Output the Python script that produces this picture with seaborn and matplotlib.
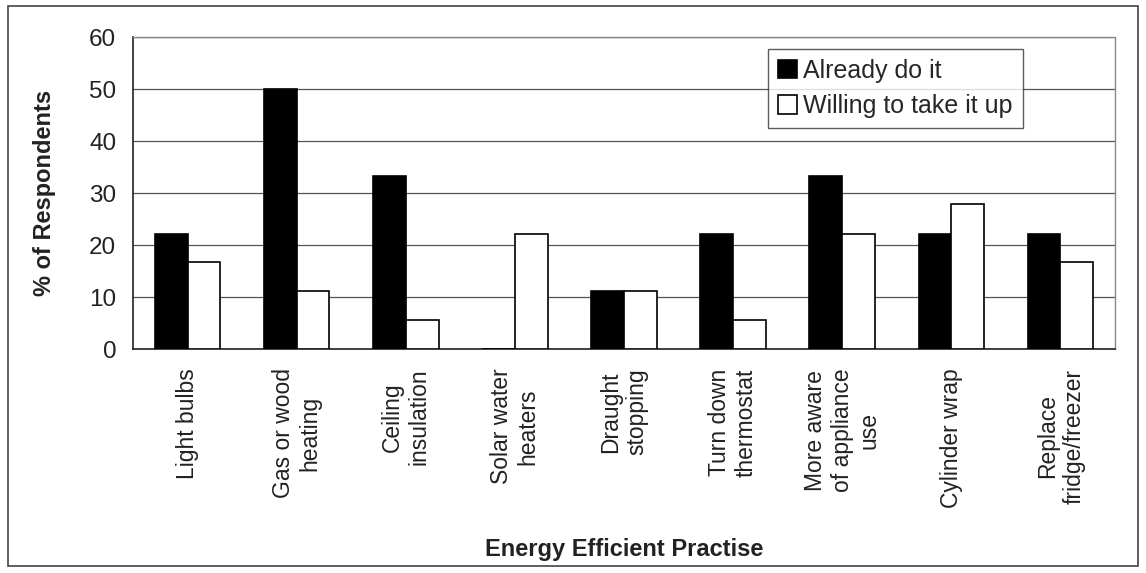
import matplotlib
matplotlib.use("Agg")
import matplotlib.pyplot as plt
import matplotlib.patches as mpatches
import seaborn as sns
import pandas as pd
import numpy as np

practices = ["Light bulbs", "Gas or wood\nheating", "Ceiling\ninsulation",
             "Solar water\nheaters", "Draught\nstopping", "Turn down\nthermostat",
             "More aware\nof appliance\nuse", "Cylinder wrap", "Replace\nfridge/freezer"]
already = [22.2, 50.0, 33.3, 0.0, 11.1, 22.2, 33.3, 22.2, 22.2]
willing = [16.7, 11.1, 5.6, 22.2, 11.1, 5.6, 22.2, 27.8, 16.7]
series = ["Already do it", "Willing to take it up"]

df = pd.DataFrame({
    "practice": practices * 2,
    "value": already + willing,
    "series": [series[0]] * len(practices) + [series[1]] * len(practices),
})

sns.set_style("white")
plt.rcParams['font.family'] = ['Liberation Sans', 'DejaVu Sans']

fig = plt.figure(figsize=(11.46, 5.73), dpi=100)
ax = fig.add_axes([133 / 1146, 1 - 349 / 573, (1115 - 133) / 1146, (349 - 37) / 573])

sns.barplot(data=df, x="practice", y="value", hue="series", order=practices,
            hue_order=series, palette=["black", "white"], edgecolor="black",
            linewidth=1.2, width=0.6, saturation=1, ax=ax, zorder=3)

ax.set_ylim(0, 60)
ax.set_xlim(-0.5, len(practices) - 0.5)
ax.set_yticks(range(0, 61, 10))
ax.yaxis.grid(True, color="#555555", linewidth=0.9, zorder=0)
ax.set_axisbelow(True)

# tick marks between categories, labels centred without marks
ax.set_xticks(np.arange(len(practices)))
ax.set_xticklabels(practices, rotation=90, ha="center", va="top",
                   multialignment="center", fontsize=16.5, color="#222222",
                   linespacing=1.2)
ax.set_xticks(np.arange(-0.5, len(practices), 1), minor=True)
ax.tick_params(axis="x", which="major", length=0, pad=14)
ax.tick_params(axis="x", which="minor", length=6, width=1, color="#333333", direction="out")
ax.tick_params(axis="y", length=6, width=1, color="#333333", direction="out",
               labelsize=17.5, labelcolor="#222222", pad=6)

for side in ["top", "right"]:
    ax.spines[side].set_color("#888888")
    ax.spines[side].set_linestyle((0, (2, 1)))
    ax.spines[side].set_linewidth(1)
for side in ["left", "bottom"]:
    ax.spines[side].set_color("#222222")
    ax.spines[side].set_linewidth(1.2)

ax.set_ylabel("% of Respondents", fontsize=17, fontweight="bold", color="#222222")
ax.yaxis.set_label_coords(-0.078, 0.5)
ax.set_xlabel("Energy Efficient Practise", fontsize=17, fontweight="bold", color="#222222")
ax.xaxis.set_label_coords(0.5, -0.605)

leg = ax.legend(loc="upper left", bbox_to_anchor=((768 - 133) / 982, (349 - 49) / 312),
                fontsize=18, frameon=True, fancybox=False, edgecolor="#333333",
                handlelength=0.75, handleheight=0.75, handletextpad=0.25,
                borderpad=0.4, labelspacing=0.45, borderaxespad=0)
leg.get_frame().set_linewidth(1)
leg.set_zorder(5)

fig.patches.append(mpatches.Rectangle((8 / 1146, 1 - 566 / 573), 1130 / 1146, 560 / 573,
                                      transform=fig.transFigure, fill=False,
                                      edgecolor="#444444", linewidth=1.2))

fig.savefig("out.png", dpi=100)
